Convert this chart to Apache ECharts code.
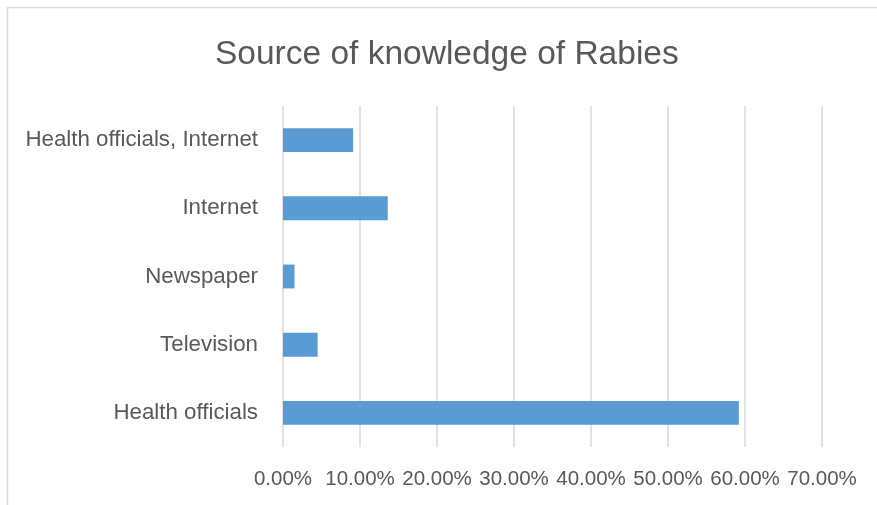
<!DOCTYPE html>
<html>
<head>
<meta charset="utf-8">
<script src="https://cdn.jsdelivr.net/npm/echarts@6/dist/echarts.min.js"></script>
<style>html,body{margin:0;padding:0;background:#fff}#c{width:877px;height:505px}</style>
</head>
<body>
<div id="c"></div>
<script>
var titleText = 'Source of knowledge of Rabies';
var categories = ['Health officials', 'Television', 'Newspaper', 'Internet', 'Health officials, Internet'];
var values = [59.2, 4.5, 1.5, 13.6, 9.1];
var xTicks = [0, 10, 20, 30, 40, 50, 60, 70];

var FONT = 'Liberation Sans';
var chart = echarts.init(document.getElementById('c'), null, {renderer: 'canvas'});
chart.setOption({
  backgroundColor: '#fff',
  animation: false,
  title: {
    text: titleText, left: 210, top: 33,
    textStyle: {fontFamily: FONT, fontSize: 33.5, fontWeight: 'normal', color: '#595959'}
  },
  graphic: [{
    type: 'rect', shape: {x: 7.5, y: 7.5, width: 900, height: 600},
    style: {fill: 'none', stroke: '#d9d9d9', lineWidth: 1.5}, silent: true
  }],
  grid: {left: 283, right: 55, top: 106, bottom: 58, containLabel: false},
  xAxis: {
    type: 'value', min: xTicks[0], max: xTicks[xTicks.length - 1], interval: 10,
    axisLine: {show: false}, axisTick: {show: false},
    splitLine: {show: true, lineStyle: {color: '#d9d9d9', width: 1.5}},
    axisLabel: {
      margin: 22, color: '#595959', fontFamily: FONT, fontSize: 20.5,
      formatter: function (v) { return v.toFixed(2) + '%'; }
    }
  },
  yAxis: {
    type: 'category', data: categories,
    axisLine: {show: false}, axisTick: {show: false},
    axisLabel: {margin: 25, color: '#595959', fontFamily: FONT, fontSize: 22.3}
  },
  series: [{
    type: 'bar', data: values, barCategoryGap: '65%',
    itemStyle: {color: '#5b9bd5'}
  }]
});
</script>
</body>
</html>
